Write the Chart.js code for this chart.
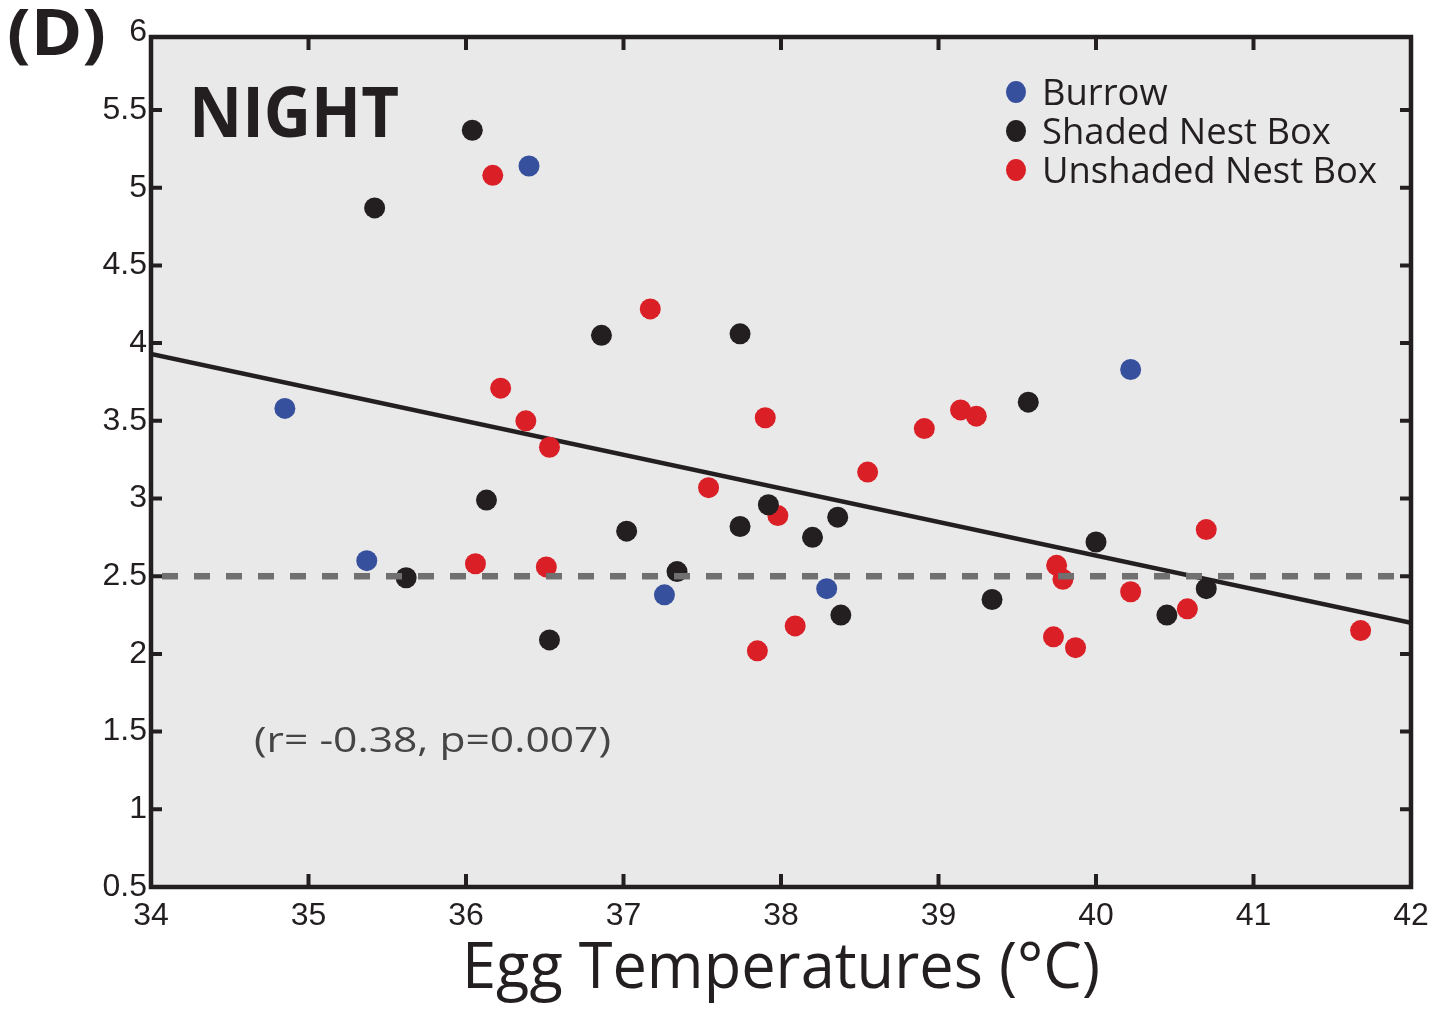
<!DOCTYPE html>
<html>
<head>
<meta charset="utf-8">
<script src="https://cdn.jsdelivr.net/npm/chart.js@4.4.1/dist/chart.umd.min.js"></script>
<style>
  html, body { margin: 0; padding: 0; background: #fff; }
  #wrap { width: 1448px; height: 1014px; }
</style>
</head>
<body>
<div id="wrap"><canvas id="chart" width="1448" height="1014"></canvas></div>
<script>
// values
const burrowX = [34.85, 35.37, 36.40, 37.26, 38.29, 40.22];
const burrowY = [3.58, 2.60, 5.14, 2.38, 2.42, 3.83];

const shadedX = [36.04, 35.42, 36.86, 37.74, 36.13, 35.62, 36.53, 37.02, 37.34, 37.74, 37.92, 38.20, 38.36, 38.38, 39.34, 39.57, 40.00, 40.45, 40.70];
const shadedY = [5.37, 4.87, 4.05, 4.06, 2.99, 2.49, 2.09, 2.79, 2.53, 2.82, 2.96, 2.75, 2.88, 2.25, 2.35, 3.62, 2.72, 2.25, 2.42];

const unshadedX = [36.17, 37.17, 36.22, 36.38, 36.53, 36.06, 36.51, 37.54, 37.90, 37.98, 37.85, 38.09, 38.55, 38.91, 39.14, 39.24, 39.75, 39.79, 39.73, 39.87, 40.22, 40.58, 40.70, 41.68];
const unshadedY = [5.08, 4.22, 3.71, 3.50, 3.33, 2.58, 2.56, 3.07, 3.52, 2.89, 2.02, 2.18, 3.17, 3.45, 3.57, 3.53, 2.57, 2.48, 2.11, 2.04, 2.40, 2.29, 2.80, 2.15];

const fitX = [34, 42];
const fitY = [3.93, 2.20];
const refX = [34.07, 42];
const refY = [2.5, 2.5];

const xTicks = [34, 35, 36, 37, 38, 39, 40, 41, 42];
const xTickLabels = ['34', '35', '36', '37', '38', '39', '40', '41', '42'];
const yTicks = [0.5, 1, 1.5, 2, 2.5, 3, 3.5, 4, 4.5, 5, 5.5, 6];
const yTickLabels = ['0.5', '1', '1.5', '2', '2.5', '3', '3.5', '4', '4.5', '5', '5.5', '6'];

const seriesNames = ['Burrow', 'Shaded Nest Box', 'Unshaded Nest Box'];
const seriesColors = ['#36509e', '#231f20', '#da1f26'];

const zip = (xs, ys) => xs.map((x, i) => ({ x: x, y: ys[i] }));

// text squeezed to the width it has in the figure
function fitText(ctx, text, x, y, width) {
  const w = ctx.measureText(text).width;
  const s = width / w;
  ctx.save();
  ctx.translate(x, y);
  ctx.scale(s, 1);
  ctx.fillText(text, 0, 0);
  ctx.restore();
}

const framePlugin = {
  id: 'frame',
  beforeDraw(chart) {
    const { ctx, chartArea: a } = chart;
    ctx.save();
    ctx.fillStyle = '#ffffff';
    ctx.fillRect(0, 0, chart.width, chart.height);
    ctx.fillStyle = '#e9e9e9';
    ctx.fillRect(a.left, a.top, a.right - a.left, a.bottom - a.top);
    ctx.restore();
  },
  afterDatasetsDraw(chart) {
    const { ctx, chartArea: a, scales } = chart;
    ctx.save();
    ctx.strokeStyle = '#231f20';
    ctx.lineWidth = 4.5;
    ctx.lineCap = 'square';
    ctx.strokeRect(a.left, a.top, a.right - a.left, a.bottom - a.top);
    ctx.lineWidth = 4;
    ctx.lineCap = 'butt';
    ctx.beginPath();
    xTicks.forEach(v => {
      const px = scales.x.getPixelForValue(v);
      ctx.moveTo(px, a.bottom); ctx.lineTo(px, a.bottom - 13);
      ctx.moveTo(px, a.top); ctx.lineTo(px, a.top + 13);
    });
    yTicks.forEach(v => {
      if (v > scales.y.max) return;
      const py = scales.y.getPixelForValue(v);
      ctx.moveTo(a.left, py); ctx.lineTo(a.left + 11, py);
      ctx.moveTo(a.right, py); ctx.lineTo(a.right - 11, py);
    });
    ctx.stroke();
    ctx.restore();
  },
  afterDraw(chart) {
    const { ctx } = chart;
    ctx.save();
    ctx.textAlign = 'left';
    ctx.textBaseline = 'alphabetic';
    ctx.fillStyle = '#231f20';

    ctx.font = 'bold 64px "Open Sans"';
    fitText(ctx, '(D)', 7, 55, 99);

    ctx.font = 'bold 70px "Open Sans"';
    fitText(ctx, 'NIGHT', 189, 137, 210);

    ctx.font = '64px "Open Sans"';
    fitText(ctx, 'Egg Temperatures (°C)', 462, 988, 638);

    ctx.fillStyle = '#454545';
    ctx.font = '34px "Open Sans"';
    fitText(ctx, '(r= -0.38, p=0.007)', 254, 752, 357);

    // legend
    ctx.font = '37px "Open Sans"';
    const s = 335 / ctx.measureText(seriesNames[2]).width;
    seriesNames.forEach((name, i) => {
      const cy = 92 + i * 39;
      ctx.fillStyle = seriesColors[i];
      ctx.beginPath();
      ctx.ellipse(1016, cy, 10, 11, 0, 0, Math.PI * 2);
      ctx.fill();
      ctx.fillStyle = '#231f20';
      ctx.save();
      ctx.translate(1042, cy + 13);
      ctx.scale(s, 1);
      ctx.fillText(name, 0, 0);
      ctx.restore();
    });
    ctx.restore();
  }
};

const tickFont = { family: '"Liberation Sans", Arial, sans-serif', size: 32 };

new Chart(document.getElementById('chart'), {
  type: 'scatter',
  data: {
    datasets: [
      {
        label: seriesNames[0], data: zip(burrowX, burrowY),
        backgroundColor: seriesColors[0], pointRadius: 10.5, pointBorderWidth: 0, order: 5
      },
      {
        label: seriesNames[1], data: zip(shadedX, shadedY),
        backgroundColor: seriesColors[1], pointRadius: 10.5, pointBorderWidth: 0, order: 5
      },
      {
        label: seriesNames[2], data: zip(unshadedX, unshadedY),
        backgroundColor: seriesColors[2], pointRadius: 10.5, pointBorderWidth: 0, order: 5
      },
      {
        label: 'fit', type: 'line', data: zip(fitX, fitY),
        borderColor: '#231f20', borderWidth: 4.5, pointRadius: 0, fill: false, order: 10
      },
      {
        label: 'ref', type: 'line', data: zip(refX, refY),
        borderColor: '#707070', borderWidth: 6.5, borderDash: [16, 16], pointRadius: 0, fill: false, order: 1
      }
    ]
  },
  options: {
    responsive: false,
    animation: false,
    layout: { padding: { top: 37, right: 37, left: 0, bottom: 0 } },
    plugins: { legend: { display: false }, tooltip: { enabled: false } },
    scales: {
      x: {
        type: 'linear', min: 34, max: 42,
        afterBuildTicks: s => { s.ticks = xTicks.map(v => ({ value: v })); },
        afterFit: s => { s.height = 127; },
        ticks: {
          font: tickFont, color: '#231f20', padding: 10, maxRotation: 0,
          callback: v => xTickLabels[xTicks.indexOf(v)]
        },
        grid: { display: false, drawTicks: false },
        border: { display: false }
      },
      y: {
        // the figure's top frame sits a touch below its 6 tick
        type: 'linear', min: 0.5, max: 5.97,
        afterBuildTicks: s => { s.ticks = yTicks.map(v => ({ value: v })); },
        afterFit: s => { s.width = 151; },
        ticks: {
          font: tickFont, color: '#231f20', padding: 4,
          callback: v => yTickLabels[yTicks.indexOf(v)]
        },
        grid: { display: false, drawTicks: false },
        border: { display: false }
      }
    }
  },
  plugins: [framePlugin]
});
</script>
</body>
</html>
